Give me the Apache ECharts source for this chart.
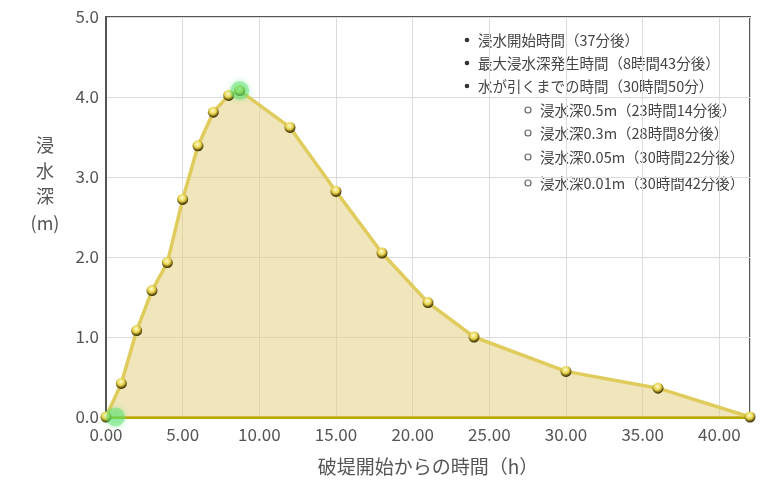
<!DOCTYPE html>
<html><head><meta charset="utf-8">
<script src="https://cdn.jsdelivr.net/npm/echarts@6/dist/echarts.min.js"></script>
<style>html,body{margin:0;padding:0;background:#fff}#c{width:762px;height:480px}</style>
</head><body><div id="c"></div>
<script>
// hours after levee breach
var hours = [0, 1, 2, 3, 4, 5, 6, 7, 8, 8.72, 12, 15, 18, 21, 24, 30, 36, 42];
// flood depth (m)
var depths = [0, 0.42, 1.08, 1.58, 1.93, 2.72, 3.39, 3.81, 4.02, 4.08, 3.62, 2.82, 2.05, 1.43, 1.0, 0.57, 0.36, 0];
// highlighted events (start of flooding, max depth)
var eventHours = [0.62, 8.72];
var eventDepths = [0, 4.08];
var xTicks = ['0.00','5.00','10.00','15.00','20.00','25.00','30.00','35.00','40.00'];
var yTicks = ['0.0','1.0','2.0','3.0','4.0','5.0'];
var mainNotes = ['浸水開始時間（37分後）', '最大浸水深発生時間（8時間43分後）', '水が引くまでの時間（30時間50分）'];
var subNotes = ['浸水深0.5m（23時間14分後）', '浸水深0.3m（28時間8分後）', '浸水深0.05m（30時間22分後）', '浸水深0.01m（30時間42分後）'];
var xName = '破堤開始からの時間（h）';
var yName = ['浸', '水', '深', '(m)'];

var font = '"Noto Sans CJK JP", "Noto Sans", sans-serif';
var chart = echarts.init(document.getElementById('c'));
var ball = {
  type: 'radial', x: 0.45, y: 0.35, r: 0.65,
  colorStops: [{offset: 0, color: '#fffbd0'}, {offset: 0.5, color: '#e8d44c'}, {offset: 0.82, color: '#6b5a10'}, {offset: 1, color: '#2a2200'}]
};
var graphics = [];
var mainY = [40, 63, 86];
mainNotes.forEach(function (t, i) {
  graphics.push({type: 'circle', shape: {cx: 467, cy: mainY[i], r: 2.3}, style: {fill: '#333'}});
  graphics.push({type: 'text', x: 478, y: mainY[i], style: {text: t, font: '14.5px ' + font, fill: '#444', textVerticalAlign: 'middle'}});
});
var subY = [110, 133, 157, 183];
subNotes.forEach(function (t, i) {
  graphics.push({type: 'circle', shape: {cx: 528, cy: subY[i], r: 3}, style: {fill: '#fff', stroke: '#666', lineWidth: 1.2}});
  graphics.push({type: 'text', x: 540, y: subY[i], style: {text: t, font: '14.5px ' + font, fill: '#444', textVerticalAlign: 'middle'}});
});
var nameY = [145, 171, 196, 223];
yName.forEach(function (t, i) {
  graphics.push({type: 'text', x: 45, y: nameY[i], style: {text: t, font: '18px ' + font, fill: '#555', textAlign: 'center', textVerticalAlign: 'middle'}});
});

chart.setOption({
  animation: false,
  grid: {left: 106, right: 12, top: 17, bottom: 63, containLabel: false, outerBoundsMode: 'none',
    show: true, borderColor: '#555', borderWidth: 2, backgroundColor: 'transparent'},
  graphic: graphics,
  xAxis: {
    type: 'value', min: 0, max: 42, interval: 5,
    name: xName, nameLocation: 'middle', nameGap: 40,
    nameTextStyle: {fontFamily: font, fontSize: 19, color: '#555'},
    axisLine: {show: true, lineStyle: {color: '#b8a800', width: 3}},
    axisTick: {show: false},
    axisLabel: {fontFamily: font, fontSize: 17, color: '#555', margin: 9,
      formatter: function (v) { return xTicks[Math.round(v / 5)] || ''; }, showMaxLabel: false},
    splitLine: {show: true, lineStyle: {color: '#dcdcdc', width: 1}}
  },
  yAxis: {
    type: 'value', min: 0, max: 5, interval: 1,
    axisLine: {show: true, lineStyle: {color: '#555', width: 2}},
    axisTick: {show: false},
    axisLabel: {fontFamily: font, fontSize: 17, color: '#555', margin: 7,
      formatter: function (v) { return yTicks[Math.round(v)]; }},
    splitLine: {show: true, lineStyle: {color: '#dcdcdc', width: 1}}
  },
  series: [
    {
      type: 'line', data: hours.map(function (h, i) { return [h, depths[i]]; }),
      symbol: 'circle', symbolSize: 11, showAllSymbol: true,
      lineStyle: {color: '#e0cc5c', width: 3.5},
      itemStyle: {color: ball, borderWidth: 0},
      areaStyle: {color: 'rgba(226,204,120,0.72)'}, z: 3
    },
    {
      type: 'scatter', data: eventHours.map(function (h, i) { return [h, eventDepths[i]]; }),
      symbol: 'circle', symbolSize: 19,
      itemStyle: {color: 'rgba(90,225,110,0.6)', shadowBlur: 6, shadowColor: 'rgba(90,225,110,0.8)'}, z: 5
    }
  ]
});
</script></body></html>
